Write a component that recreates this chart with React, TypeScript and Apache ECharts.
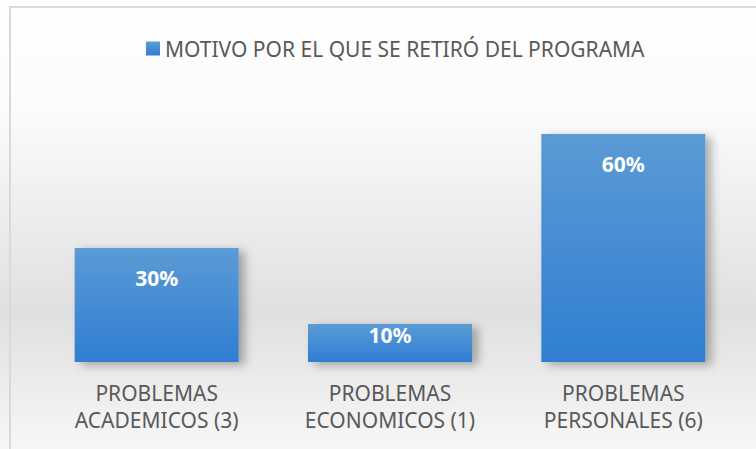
import React, { useEffect, useRef } from "react";
import * as echarts from "echarts";

const categories = ["PROBLEMAS\nACADEMICOS (3)", "PROBLEMAS\nECONOMICOS (1)", "PROBLEMAS\nPERSONALES (6)"];
const values = [30, 10, 60];
const seriesName = "MOTIVO POR EL QUE SE RETIRÓ DEL PROGRAMA";

export default function App() {
  const ref = useRef<HTMLDivElement>(null);
  useEffect(() => {
    const chart = echarts.init(ref.current!, null, { renderer: "svg" });
    const font = "'Noto Sans', 'Open Sans', sans-serif";
    chart.setOption({
      animation: false,
      backgroundColor: new echarts.graphic.LinearGradient(0, 0, 0, 1, [
        { offset: 0, color: "#ffffff" },
        { offset: 0.25, color: "#fbfbfb" },
        { offset: 0.7, color: "#e0e0e0" },
        { offset: 1, color: "#f7f7f7" },
      ]),
      graphic: [
        {
          type: "rect",
          shape: { x: 10, y: 7, width: 800, height: 500 },
          style: { fill: "none", stroke: "#d9d9d9", lineWidth: 2 },
          silent: true,
        },
      ],
      legend: {
        data: [seriesName],
        left: 141,
        top: 33,
        itemWidth: 14,
        itemHeight: 14,
        icon: "rect",
        textStyle: { color: "#595959", fontSize: 21, fontFamily: font },
      },
      grid: { left: 40, right: 16, top: 96, bottom: 87, containLabel: false },
      xAxis: {
        type: "category",
        data: categories,
        axisLine: { show: false },
        axisTick: { show: false },
        axisLabel: {
          color: "#595959",
          fontSize: 21,
          fontFamily: font,
          lineHeight: 27,
          margin: 17,
          interval: 0,
        },
      },
      yAxis: {
        type: "value",
        min: 0,
        max: 70,
        show: false,
        splitLine: { show: false },
      },
      series: [
        {
          name: seriesName,
          type: "bar",
          barWidth: 164,
          data: values.map((v) => ({
            value: v,
            label: v < 15 ? { distance: 0 } : undefined,
          })),
          itemStyle: {
            color: new echarts.graphic.LinearGradient(0, 0, 0, 1, [
              { offset: 0, color: "#5b9bd5" },
              { offset: 1, color: "#2f7ed2" },
            ]),
            shadowColor: "rgba(0,0,0,0.3)",
            shadowBlur: 10,
            shadowOffsetX: 6,
            shadowOffsetY: 3,
          },
          label: {
            show: true,
            position: "insideTop",
            distance: 19,
            color: "#ffffff",
            fontWeight: "bold",
            fontSize: 21,
            fontFamily: font,
            formatter: "{c}%",
          },
        },
      ],
    });
    return () => chart.dispose();
  }, []);
  return (
    <div
      ref={ref}
      style={{ position: "absolute", left: 0, top: 0, width: 756, height: 449 }}
    />
  );
}
